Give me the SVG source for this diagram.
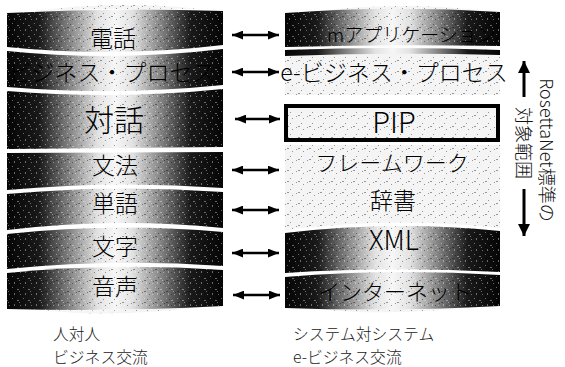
<svg xmlns="http://www.w3.org/2000/svg" width="565" height="367" viewBox="0 0 565 367">
<defs>
<linearGradient id="gL" gradientUnits="userSpaceOnUse" x1="7" y1="0" x2="223" y2="0">
<stop offset="0" stop-color="#050505"/><stop offset="0.15" stop-color="#1a1a1a"/><stop offset="0.3" stop-color="#8c8c8c"/><stop offset="0.42" stop-color="#e2e2e2"/><stop offset="0.5" stop-color="#f6f6f6"/><stop offset="0.58" stop-color="#e2e2e2"/><stop offset="0.7" stop-color="#8c8c8c"/><stop offset="0.85" stop-color="#1a1a1a"/><stop offset="1" stop-color="#050505"/>
</linearGradient>
<linearGradient id="gR" gradientUnits="userSpaceOnUse" x1="285" y1="0" x2="500" y2="0">
<stop offset="0" stop-color="#050505"/><stop offset="0.15" stop-color="#1a1a1a"/><stop offset="0.3" stop-color="#8c8c8c"/><stop offset="0.42" stop-color="#e2e2e2"/><stop offset="0.5" stop-color="#f6f6f6"/><stop offset="0.58" stop-color="#e2e2e2"/><stop offset="0.7" stop-color="#8c8c8c"/><stop offset="0.85" stop-color="#1a1a1a"/><stop offset="1" stop-color="#050505"/>
</linearGradient>
<pattern id="stip" width="11" height="11" patternUnits="userSpaceOnUse">
<rect x="1" y="1" width="1" height="1" fill="#fff"/><rect x="6" y="3" width="2" height="1" fill="#fff"/><rect x="3" y="7" width="1" height="2" fill="#fff"/><rect x="9" y="8" width="1" height="1" fill="#fff"/><rect x="8" y="5" width="1" height="1" fill="#fff"/>
<rect x="4" y="2" width="1" height="1" fill="#000"/><rect x="1" y="5" width="2" height="1" fill="#000"/><rect x="6" y="8" width="1" height="1" fill="#000"/><rect x="10" y="6" width="1" height="1" fill="#000"/>
</pattern>
<marker id="ah" viewBox="0 0 10 8" refX="10" refY="4" markerWidth="11" markerHeight="9" markerUnits="userSpaceOnUse" orient="auto-start-reverse">
<path d="M0,0 L10,4 L0,8 Z" fill="#000"/>
</marker>
<marker id="av" viewBox="0 0 10 10" refX="10" refY="5" markerWidth="12" markerHeight="12" markerUnits="userSpaceOnUse" orient="auto">
<path d="M0,0 L10,5 L0,10 Z" fill="#000"/>
</marker>
</defs>
<style>
.dl{fill:url(#gL)}
.dr{fill:url(#gR)}
.lt{fill:#f4f4f4}
.tx{fill:url(#stip);opacity:0.38}
.t{font-family:"Noto Sans CJK JP","Noto Sans",sans-serif;font-weight:300;fill:#000;text-anchor:middle}
.cap{font-family:"Noto Sans CJK JP","Noto Sans",sans-serif;font-weight:300;fill:#222;font-size:15.8px}
.vt{font-family:"Noto Sans CJK JP","Noto Sans",sans-serif;font-weight:300;fill:#111;font-size:18px;text-anchor:middle}
.con{stroke:#000;stroke-width:2.6;fill:none}
</style>
<rect width="565" height="367" fill="#fff"/>

<path d="M35,11 Q115,0 200,9 Q115,8 35,11 Z" class="lt"/>
<path d="M35,11 Q115,0 200,9 Q115,8 35,11 Z" class="tx"/>
<path d="M40,310 Q115,318 200,307 Q115,312 40,310 Z" class="lt"/>
<path d="M40,310 Q115,318 200,307 Q115,312 40,310 Z" class="tx"/>

<g id="l-denwa">
<path d="M7,13 Q115,7 223,11 L223,45 Q115,58 7,47 Z" class="dl"/>
<path d="M7,13 Q115,7 223,11 L223,45 Q115,58 7,47 Z" class="tx"/>
<text class="t" x="113" y="46.5" font-size="23">電話</text>
</g>
<g id="l-bizproc">
<path d="M7,51 Q115,62 223,49 L223,85 Q115,96 7,87 Z" class="dl"/>
<path d="M7,51 Q115,62 223,49 L223,85 Q115,96 7,87 Z" class="tx"/>
<text class="t" x="112" y="81" font-size="23">ビジネス・プロセス</text>
</g>
<g id="l-taiwa">
<path d="M7,91 Q115,100 223,89 L223,147 L7,149 Z" class="dl"/>
<path d="M7,91 Q115,100 223,89 L223,147 L7,149 Z" class="tx"/>
<text class="t" x="114" y="131" font-size="30">対話</text>
</g>
<g id="l-bunpo">
<path d="M7,153 L223,152 L223,188 Q115,180 7,190 Z" class="dl"/>
<path d="M7,153 L223,152 L223,188 Q115,180 7,190 Z" class="tx"/>
<text class="t" x="115" y="173.5" font-size="23">文法</text>
</g>
<g id="l-tango">
<path d="M7,194 Q115,184 223,192 L223,228 Q115,217 7,230 Z" class="dl"/>
<path d="M7,194 Q115,184 223,192 L223,228 Q115,217 7,230 Z" class="tx"/>
<text class="t" x="115" y="211.5" font-size="23">単語</text>
</g>
<g id="l-moji">
<path d="M7,234 Q115,222 223,232 L223,266 Q115,258 7,269 Z" class="dl"/>
<path d="M7,234 Q115,222 223,232 L223,266 Q115,258 7,269 Z" class="tx"/>
<text class="t" x="115" y="255" font-size="23">文字</text>
</g>
<g id="l-onsei">
<path d="M7,273 Q115,262 223,270 L223,306 Q115,312 7,309 Z" class="dl"/>
<path d="M7,273 Q115,262 223,270 L223,306 Q115,312 7,309 Z" class="tx"/>
<text class="t" x="115" y="295" font-size="23">音声</text>
</g>

<path d="M310,12 Q392,1 480,10 Q392,9 310,12 Z" class="lt"/>
<path d="M310,12 Q392,1 480,10 Q392,9 310,12 Z" class="tx"/>
<path d="M315,309 Q392,317 480,306 Q392,311 315,309 Z" class="lt"/>
<path d="M315,309 Q392,317 480,306 Q392,311 315,309 Z" class="tx"/>

<g id="r-app">
<path d="M285,13 Q392,5 500,12 L500,46 Q392,44 285,47 Z" class="dr"/>
<path d="M285,13 Q392,5 500,12 L500,46 Q392,44 285,47 Z" class="tx"/>
<text class="t" x="327" y="42" font-size="19" style="text-anchor:start">mアプリケーション</text>
</g>
<g id="r-ebiz">
<path d="M285,50 Q392,46 500,50 L500,95 L285,95 Z" class="lt"/>
<path d="M285,50 Q392,46 500,50 L500,95 L285,95 Z" class="tx"/>
<path d="M285,50 Q392,46 500,50 L500,55 Q392,52 285,56 Z" class="dr"/>
<text class="t" x="394" y="81" font-size="23">e-ビジネス・プロセス</text>
</g>
<g id="r-pip">
<rect x="286" y="106" width="212" height="34" class="lt"/>
<rect x="286" y="106" width="212" height="34" class="tx"/>
<rect x="286" y="106" width="212" height="34" fill="none" stroke="#000" stroke-width="4"/>
<text class="t" x="394" y="133" font-size="29">PIP</text>
</g>
<g id="r-framework">
<path d="M285,145 L500,145 L500,184 L285,184 Z" class="lt"/>
<path d="M285,145 L500,145 L500,184 L285,184 Z" class="tx"/>
<text class="t" x="392" y="171" font-size="22">フレームワーク</text>
</g>
<g id="r-jisho">
<path d="M285,184 L500,184 L500,228 Q392,216 285,230 Z" class="lt"/>
<path d="M285,184 L500,184 L500,228 Q392,216 285,230 Z" class="tx"/>
<text class="t" x="393" y="209" font-size="23">辞書</text>
</g>
<g id="r-xml">
<path d="M285,233 Q392,220 500,231 L500,272 Q392,266 285,273 Z" class="dr"/>
<path d="M285,233 Q392,220 500,231 L500,272 Q392,266 285,273 Z" class="tx"/>
<text class="t" x="394" y="250" font-size="27">XML</text>
</g>
<g id="r-internet">
<path d="M285,277 Q392,268 500,275 L500,306 Q392,312 285,308 Z" class="dr"/>
<path d="M285,277 Q392,268 500,275 L500,306 Q392,312 285,308 Z" class="tx"/>
<text class="t" x="395" y="300" font-size="22">インターネット</text>
</g>

<g id="connectors">
<line x1="232" y1="35" x2="279" y2="35" class="con" marker-start="url(#ah)" marker-end="url(#ah)"/>
<line x1="232" y1="72" x2="279" y2="72" class="con" marker-start="url(#ah)" marker-end="url(#ah)"/>
<line x1="235" y1="119" x2="280" y2="119" class="con" marker-start="url(#ah)" marker-end="url(#ah)"/>
<line x1="232" y1="170" x2="279" y2="170" class="con" marker-start="url(#ah)" marker-end="url(#ah)"/>
<line x1="232" y1="210" x2="279" y2="210" class="con" marker-start="url(#ah)" marker-end="url(#ah)"/>
<line x1="232" y1="253" x2="279" y2="253" class="con" marker-start="url(#ah)" marker-end="url(#ah)"/>
<line x1="233" y1="295" x2="280" y2="295" class="con" marker-start="url(#ah)" marker-end="url(#ah)"/>
</g>

<g id="scope">
<line x1="524" y1="97" x2="524" y2="61" stroke="#000" stroke-width="3" marker-end="url(#av)"/>
<line x1="524" y1="189" x2="524" y2="236" stroke="#000" stroke-width="3" marker-end="url(#av)"/>
<text class="vt" x="540" y="150" transform="rotate(90 540 150)" font-size="19">RosettaNet標準の</text>
<text class="vt" x="517" y="143" transform="rotate(90 517 143)">対象範囲</text>
</g>

<g id="captions">
<text class="cap" x="53" y="340">人対人</text>
<text class="cap" x="53" y="363">ビジネス交流</text>
<text class="cap" x="293" y="340">システム対システム</text>
<text class="cap" x="293" y="363">e-ビジネス交流</text>
</g>
</svg>
